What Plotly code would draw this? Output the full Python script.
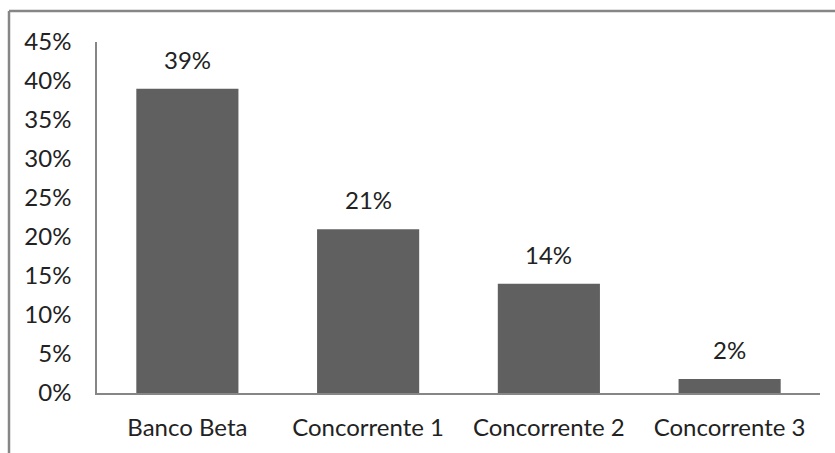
import plotly.graph_objects as go

categories = ["Banco Beta", "Concorrente 1", "Concorrente 2", "Concorrente 3"]
values = [0.39, 0.21, 0.14, 0.018]
y_ticks = [0, 0.05, 0.10, 0.15, 0.20, 0.25, 0.30, 0.35, 0.40, 0.45]

FONT = "Lato"
FS = 24
TXT = "#222222"
AX = "#868686"

fig = go.Figure()
fig.add_trace(go.Bar(
    x=categories, y=values,
    marker=dict(color="#606060", line=dict(width=0)),
    hoverinfo="skip",
))

for c, v in zip(categories, values):
    fig.add_annotation(
        x=c, y=v, xref="x", yref="y",
        text=f"{v:.0%}", showarrow=False,
        yanchor="bottom", yshift=13,
        font=dict(family=FONT, size=FS, color=TXT),
    )

W, H = 835, 453
L, R, T, B = 97, 15, 42, 60
pw = W - L - R
ph = H - T - B

def px_x(px):
    return (px - L) / pw

def px_y(py):
    return 1 - (py - T) / ph

# outer chart border (left and top visible)
fig.add_shape(type="line", xref="paper", yref="paper",
              x0=px_x(9), x1=px_x(840), y0=px_y(11), y1=px_y(11),
              line=dict(color=AX, width=2.5))
fig.add_shape(type="line", xref="paper", yref="paper",
              x0=px_x(9), x1=px_x(9), y0=px_y(11), y1=px_y(460),
              line=dict(color=AX, width=2.5))

fig.update_layout(
    width=W, height=H,
    margin=dict(l=L, r=R, t=T, b=B, pad=0),
    paper_bgcolor="white", plot_bgcolor="white",
    bargap=0.435,
    showlegend=False,
    font=dict(family=FONT, size=FS, color=TXT),
    xaxis=dict(
        showline=True, linecolor=AX, linewidth=1.5,
        showgrid=False, zeroline=False, ticks="",
        ticklabelstandoff=12, automargin=False,
        tickfont=dict(family=FONT, size=FS, color=TXT),
    ),
    yaxis=dict(
        range=[0, 0.45], tickvals=y_ticks, tickformat=".0%",
        showline=True, linecolor=AX, linewidth=1.5,
        showgrid=False, zeroline=False, ticks="",
        ticklabelstandoff=19, automargin=False,
        tickfont=dict(family=FONT, size=FS, color=TXT),
    ),
)

fig.write_html("out.html")
